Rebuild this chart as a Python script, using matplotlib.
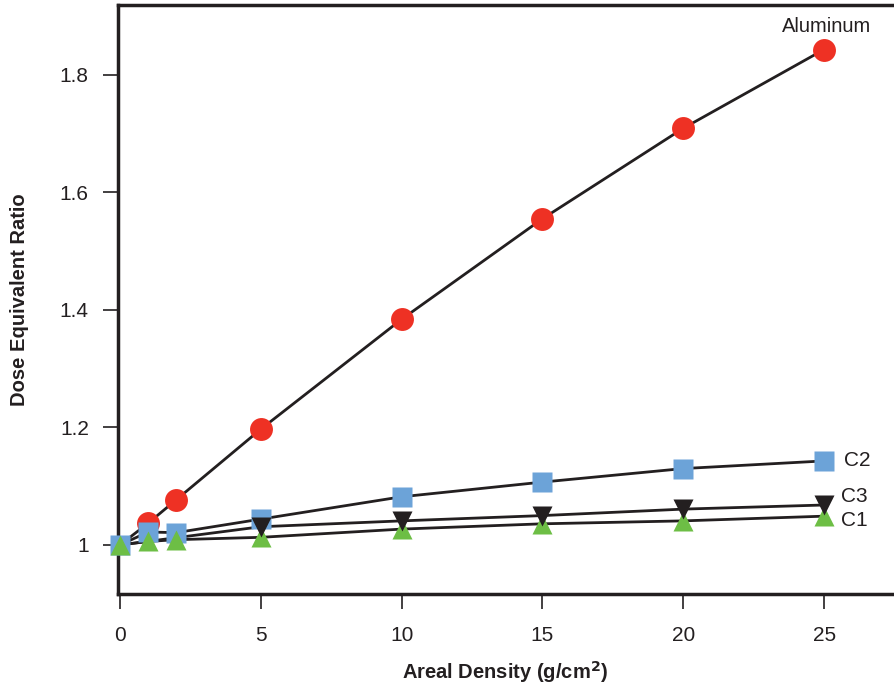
#! /usr/bin/env python3

'''
Dose equivalent ratio against areal density for aluminum and C1-C3.
'''

import matplotlib
matplotlib.use('Agg')
import matplotlib.pyplot as plt


density = [0, 1, 2, 5, 10, 15, 20, 25]
aluminum = [1.0, 1.037, 1.077, 1.197, 1.384, 1.555, 1.709, 1.843]
c2 = [1.0, 1.022, 1.021, 1.044, 1.082, 1.107, 1.130, 1.143]
c1 = [1.0, 1.006, 1.009, 1.013, 1.027, 1.036, 1.041, 1.049]
# C3 is only marked from 5 g/cm2 on
density_c3 = [0, 5, 10, 15, 20, 25]
c3 = [1.0, 1.031, 1.041, 1.050, 1.061, 1.068]
xticks = [0, 5, 10, 15, 20, 25]
yticks = [1.0, 1.2, 1.4, 1.6, 1.8]
ytick_labels = ['1', '1.2', '1.4', '1.6', '1.8']

ink = '#231f20'
plt.rcParams['font.family'] = ['Liberation Sans', 'DejaVu Sans']


def main():
    fig = plt.figure(figsize=(8.94, 6.91), dpi=100)
    ax = fig.add_axes([0.132, 0.1404, 0.999 - 0.132, 0.993 - 0.1404])

    # x, y, marker, colour, size, first marked point
    series = [
        (density, aluminum, 'o', '#ee3124', 16.5, 1),
        (density, c2, 's', '#6ca3d8', 14, 0),
        (density, c1, '^', '#6dbe45', 14.5, 0),
        (density_c3, c3, 'v', ink, 14.5, 1),
    ]
    for x, y, marker, color, size, first in series:
        ax.plot(x, y, color=ink, linewidth=2, zorder=2)
    for i, (x, y, marker, color, size, first) in enumerate(series):
        ax.plot(x[first:], y[first:], linestyle='none', marker=marker,
                markersize=size, markerfacecolor=color,
                markeredgecolor='none', zorder=3 + i, clip_on=False)

    ax.text(25.1, 1.882, 'Aluminum', fontsize=14.5, color=ink,
            ha='center', va='center')
    ax.text(25.7, 1.143, 'C2', fontsize=15, color=ink, va='center')
    ax.text(25.6, 1.083, 'C3', fontsize=15, color=ink, va='center')
    ax.text(25.6, 1.041, 'C1', fontsize=15, color=ink, va='center')

    ax.set_xlim(-0.07, 27.45)
    ax.set_ylim(0.9166, 1.919)
    ax.set_xticks(xticks)
    ax.set_yticks(yticks)
    ax.set_yticklabels(ytick_labels)
    ax.tick_params(direction='out', length=11, width=1.2, color=ink,
                   labelsize=15, labelcolor=ink, pad=10)
    ax.tick_params(axis='x', pad=12)

    for spine in 'left', 'bottom', 'top':
        ax.spines[spine].set_linewidth(2.5)
        ax.spines[spine].set_color(ink)
    ax.spines['right'].set_visible(False)

    ax.set_xlabel('Areal Density (g/cm$^{\\mathbf{2}}$)', fontsize=14.5,
                  fontweight='bold', color=ink, labelpad=10)
    ax.set_ylabel('Dose Equivalent Ratio', fontsize=14.5,
                  fontweight='bold', color=ink, labelpad=22)

    fig.savefig('out.png', dpi=100)


if __name__ == '__main__':
    main()
